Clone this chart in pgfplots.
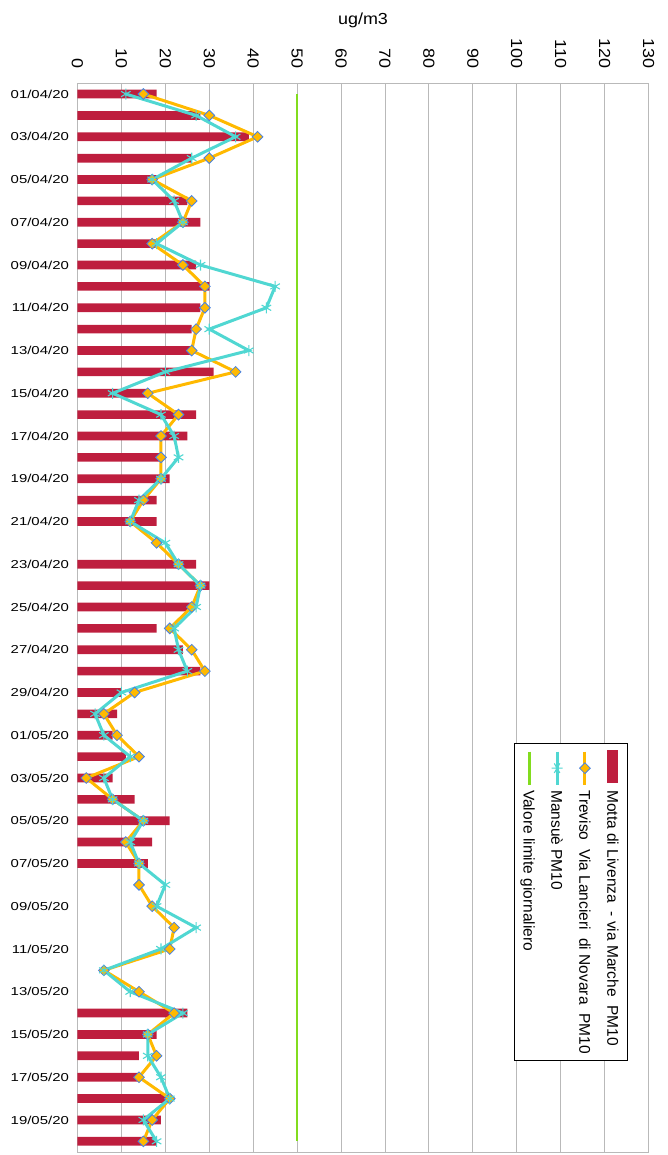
\documentclass[border=0pt]{standalone}
\usepackage{pgfplots}
\pgfplotsset{compat=1.18}
\usepackage{pgfplotstable}
\usepackage{fontspec}
\setmainfont{Liberation Sans}

\definecolor{motta}{RGB}{190,30,62}
\definecolor{treviso}{RGB}{255,185,0}
\definecolor{trevedge}{RGB}{70,130,230}
\definecolor{mansue}{RGB}{80,215,210}
\definecolor{limite}{RGB}{130,220,30}
\definecolor{gridgray}{RGB}{185,185,185}

\tikzset{
  treviso style/.style={treviso, line width=3pt, mark=square*,
    mark options={solid, rotate=45, fill=treviso, draw=trevedge, line width=0.8pt, mark size=3.8pt}},
  mansue style/.style={mansue, line width=3pt, mark=asterisk,
    mark options={solid, mansue, line width=1.1pt, mark size=5.5pt}},
}

% legend samples, 33pt long, centred on the text's cap height
\newcommand\samplebar{\tikz[baseline=-0.36em]\fill[motta] (0pt,-5.5pt) rectangle (33pt,5.5pt);}
\newcommand\sampleline[1]{\tikz[baseline=-0.36em]\draw[#1, mark repeat=2, mark phase=2] plot coordinates {(0pt,0pt) (16.5pt,0pt) (33pt,0pt)};}

% day index (0 = 01/04/20) and daily PM10 in ug/m3
\pgfplotstableread{
d v
0 18
1 28
2 39
3 26
4 18
5 25
6 28
7 18
8 27
9 30
10 28
11 26
12 26
13 31
14 16
15 27
16 25
17 19
18 21
19 18
20 18
22 27
23 30
24 26
25 18
26 24
27 28
28 10
29 9
30 8
31 11
32 8
33 13
34 21
35 17
36 16
43 25
44 18
45 14
46 14
47 20
48 19
49 18
}\motta

\pgfplotstableread{
d v
0 15
1 30
2 41
3 30
4 17
5 26
6 24
7 17
8 24
9 29
10 29
11 27
12 26
13 36
14 16
15 23
16 19
17 19
18 19
19 15
20 12
21 18
22 23
23 28
24 26
25 21
26 26
27 29
28 13
29 6
30 9
31 14
32 2
33 8
34 15
35 11
36 14
37 14
38 17
39 22
40 21
41 6
42 14
43 22
44 16
45 18
46 14
47 21
48 17
49 15
}\treviso

\pgfplotstableread{
d v
0 11
1 27
2 36
3 26
4 17
5 22
6 24
7 18
8 28
9 45
10 43
11 30
12 39
13 20
14 8
15 19
16 22
17 23
18 19
19 14
20 12
21 20
22 23
23 28
24 27
25 22
26 23
27 25
28 10
29 4
30 6
31 12
32 6
33 8
34 15
35 12
36 14
37 20
38 18
39 27
40 19
41 6
42 12
43 24
44 16
45 16
46 19
47 21
48 15
49 18
}\mansue

\begin{document}
\begin{tikzpicture}
\begin{axis}[
  at={(77.5pt,3pt)}, anchor=south west,
  width=571pt, height=1068.7pt, scale only axis,
  xmin=0, xmax=130, ymin=-0.5, ymax=49.5, y dir=reverse,
  xtick distance=10,
  xticklabel pos=upper,
  ytick={0,2,...,48},
  yticklabels={01/04/20,03/04/20,05/04/20,07/04/20,09/04/20,11/04/20,13/04/20,15/04/20,17/04/20,19/04/20,21/04/20,23/04/20,25/04/20,27/04/20,29/04/20,01/05/20,03/05/20,05/05/20,07/05/20,09/05/20,11/05/20,13/05/20,15/05/20,17/05/20,19/05/20},
  major tick length=0pt,
  xmajorgrids,
  major grid style={gridgray, line width=0.9pt},
  axis line style={gridgray, line width=0.9pt},
  /pgf/number format/assume math mode=true,
  x tick label style={font=\fontsize{16}{18}\selectfont, yshift=11pt, rotate=-90, xscale=1.12, anchor=east},
  y tick label style={font=\fontsize{11.5}{13}\selectfont, xshift=-4pt, xscale=1.3, anchor=east},
  title={ug/m3},
  title style={font=\fontsize{16}{18}\selectfont, xscale=1.12, at={(0.5,1)}, anchor=center, yshift=57pt},
  clip=false,
]
\addplot[xbar, bar width=8.7pt, bar shift=0pt, fill=motta, draw=none]
  table[x=v, y=d] {\motta};
\addplot[treviso style] table[x=v, y=d] {\treviso};
\addplot[mansue style] table[x=v, y=d] {\mansue};
\addplot[limite, line width=2.7pt] coordinates {(50,0) (50,49)};
\end{axis}
% legend, turned to read downwards
\node[draw=black, line width=0.8pt, fill=white, rotate=-90, inner xsep=7pt, inner ysep=1pt,
  font=\fontsize{15.5}{18}\selectfont, anchor=center] at (571pt,253pt) {%
  \def\arraystretch{1.55}%
  \begin{tabular}{@{}l@{\hspace{4pt}}l@{}}
  \samplebar & Motta di Livenza\ \ - via Marche\ \ PM10\\
  \sampleline{treviso style} & Treviso\ \ Via Lancieri\ \ di Novara\ \ PM10\\
  \sampleline{mansue style} & Mansuè PM10\\
  \sampleline{limite, line width=2.7pt} & Valore limite giornaliero
  \end{tabular}};
\pgfresetboundingbox
\path[use as bounding box] (0pt,0pt) rectangle (668pt,1155pt);
\end{tikzpicture}
\end{document}
